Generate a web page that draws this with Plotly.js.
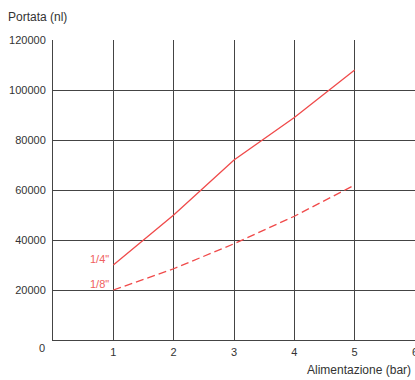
<!DOCTYPE html>
<html><head><meta charset="utf-8">
<script src="https://cdn.plot.ly/plotly-3.0.1.min.js"></script>
<style>html,body{margin:0;padding:0;background:#fff}</style>
</head><body>
<div id="chart" style="width:415px;height:380px"></div>
<script>
const pressure = [1, 2, 3, 4, 5];
const flowQuarter = [30000, 50000, 72000, 89000, 108000];
const flowEighth = [20000, 28500, 38500, 49500, 62000];
const seriesNames = ['1/4"', '1/8"'];
const xTicks = [1, 2, 3, 4, 5, 6];
const yTicks = [20000, 40000, 60000, 80000, 100000, 120000];

const lineColor = '#f04a4a';
const labelColor = '#f06060';
const font = {family: 'Liberation Sans, Arial, sans-serif', size: 11, color: '#333'};
const titleFont = {family: 'Liberation Sans, Arial, sans-serif', size: 12, color: '#333'};

const traces = [
  {x: pressure, y: flowQuarter, name: seriesNames[0], mode: 'lines',
   line: {color: lineColor, width: 1.3}},
  {x: pressure, y: flowEighth, name: seriesNames[1], mode: 'lines',
   line: {color: lineColor, width: 1.3, dash: '8px,4px'}}
];

const layout = {
  width: 415, height: 380,
  margin: {l: 53, r: 0, t: 40, b: 40},
  showlegend: false,
  paper_bgcolor: '#fff', plot_bgcolor: '#fff',
  font: font,
  xaxis: {range: [0, 6], tickvals: xTicks, ticktext: xTicks.map(String),
    showgrid: true, gridcolor: '#444', gridwidth: 1, zeroline: false,
    showline: true, linecolor: '#444', linewidth: 1, ticks: '', ticklabelstandoff: 2,
    ticklabeloverflow: 'allow', tickfont: font},
  yaxis: {range: [0, 120000], tickvals: yTicks, ticktext: yTicks.map(String),
    showgrid: true, gridcolor: '#444', gridwidth: 1, zeroline: false,
    showline: true, linecolor: '#444', linewidth: 1, ticks: '', ticklabelstandoff: 4,
    tickfont: font},
  annotations: [
    {text: 'Portata (nl)', xref: 'paper', yref: 'paper', x: -47/362, y: 1 + 23/300,
     xanchor: 'left', yanchor: 'middle', showarrow: false, font: titleFont},
    {text: 'Alimentazione (bar)', xref: 'paper', yref: 'paper', x: 1 - 2/362, y: -30/300,
     xanchor: 'right', yanchor: 'middle', showarrow: false, font: titleFont},
    {text: '0', xref: 'paper', yref: 'paper', x: -11/362, y: -8/300,
     xanchor: 'center', yanchor: 'middle', showarrow: false, font: font},
    {text: seriesNames[0], x: pressure[0], y: flowQuarter[0], xref: 'x', yref: 'y',
     xanchor: 'right', yanchor: 'bottom', xshift: -2, yshift: -2, showarrow: false,
     font: {family: font.family, size: 11, color: labelColor}},
    {text: seriesNames[1], x: pressure[0], y: flowEighth[0], xref: 'x', yref: 'y',
     xanchor: 'right', yanchor: 'bottom', xshift: -2, yshift: -2, showarrow: false,
     font: {family: font.family, size: 11, color: labelColor}}
  ]
};

Plotly.newPlot('chart', traces, layout, {displayModeBar: false, staticPlot: true});
</script>
</body></html>
